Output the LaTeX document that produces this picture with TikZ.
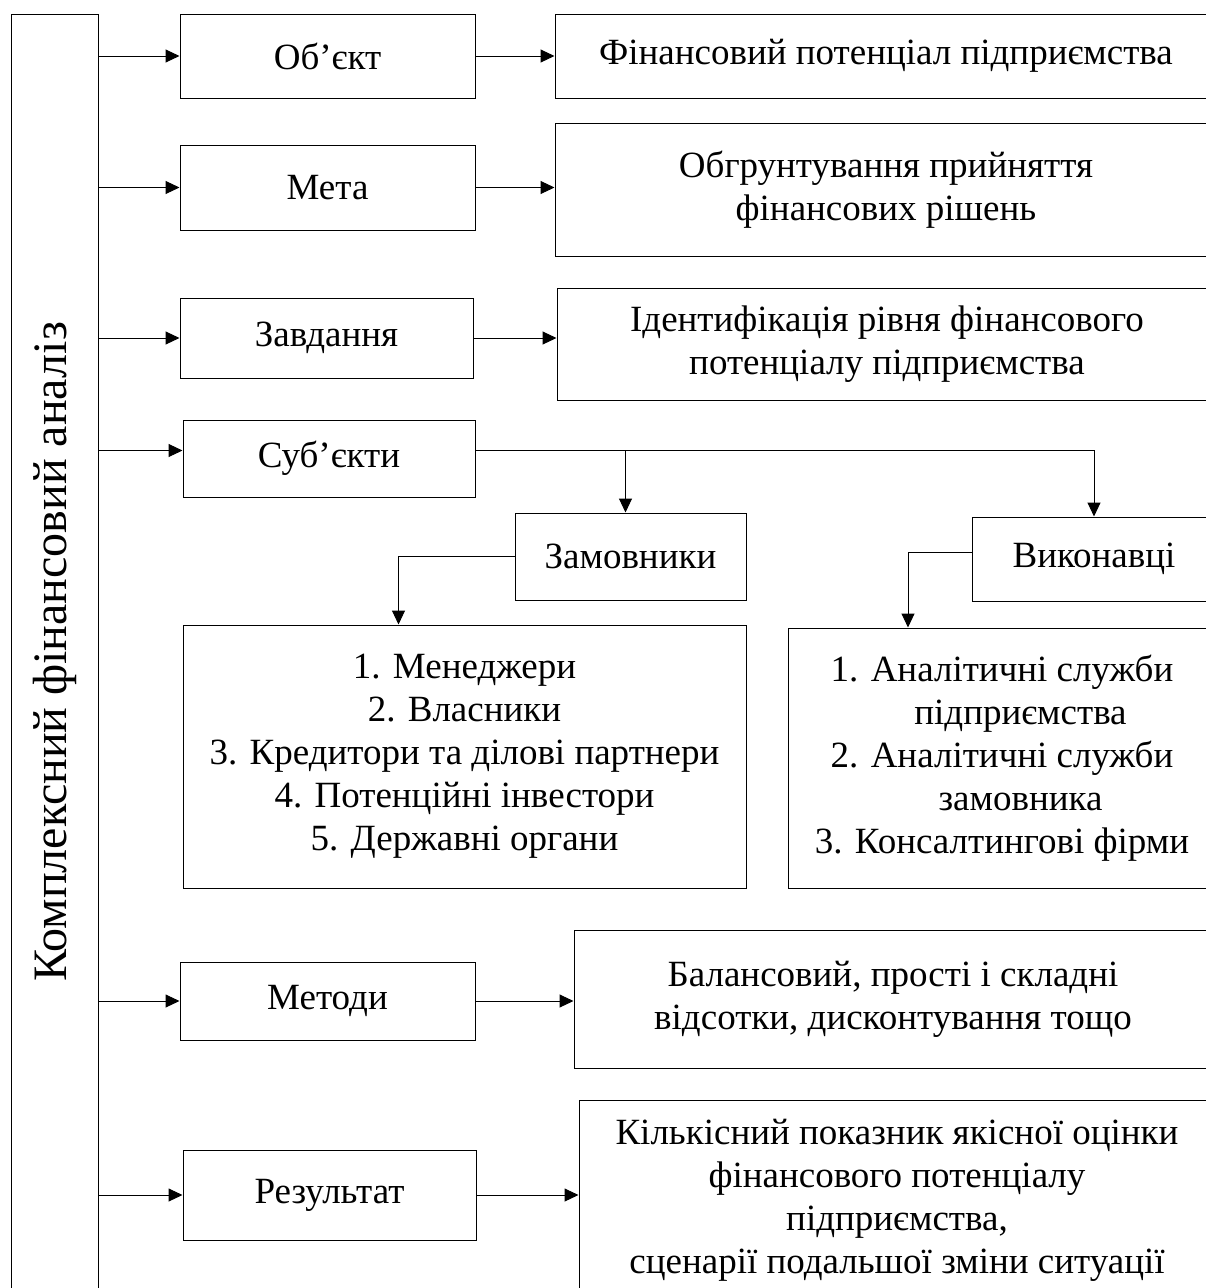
\documentclass[tikz,border=0pt]{standalone}
\usepackage{fontspec}
\setmainfont{Liberation Serif}
\usetikzlibrary{arrows.meta, positioning}
\tikzstyle{block} = [rectangle, draw=black, line width=1pt, inner sep=2pt, align=center, font=\fontsize{37}{43}\selectfont]
\tikzstyle{sidebar} = [rectangle, draw=black, line width=1pt, rotate=90, font=\fontsize{48}{56}\selectfont]
\tikzstyle{arrow} = [line width=1pt, -{Triangle[length=14pt, width=13pt]}]

\begin{document}
\begin{tikzpicture}[x=1pt, y=-1pt]
\useasboundingbox (0,0) rectangle (1206,1288);

\node (analiz) [sidebar, minimum width=1276pt, minimum height=87pt] at (54.5,652) {Комплексний фінансовий аналіз};

% left column
\node (obj) [block, minimum width=295pt, minimum height=84pt] at (327.5,56) {Об’єкт};
\node (meta) [block, minimum width=295pt, minimum height=85pt] at (327.5,187.5) {Мета};
\node (zavd) [block, minimum width=293pt, minimum height=80pt] at (326.5,338) {Завдання};
\node (sub) [block, minimum width=292pt, minimum height=77pt] at (329,458.5) {Суб’єкти};
\node (metody) [block, minimum width=295pt, minimum height=78pt] at (327.5,1001) {Методи};
\node (rez) [block, minimum width=293pt, minimum height=90pt] at (329.5,1195) {Результат};

% right column
\node (fin) [block, minimum width=662pt, minimum height=84pt] at (886,56) {Фінансовий потенціал підприємства};
\node (obgr) [block, minimum width=662pt, minimum height=133pt] at (886,189.5) {Обгрунтування прийняття\\фінансових рішень};
\node (ident) [block, minimum width=660pt, minimum height=112pt] at (887,344) {Ідентифікація рівня фінансового\\потенціалу підприємства};
\node (balans) [block, minimum width=638pt, minimum height=138pt] at (893,999) {Балансовий, прості і складні\\відсотки, дисконтування тощо};
\node (kilk) [block, minimum width=636pt, minimum height=200pt] at (897,1200) {Кількісний показник якісної оцінки\\фінансового потенціалу\\підприємства,\\сценарії подальшої зміни ситуації};

% subjects
\node (zamov) [block, minimum width=231pt, minimum height=87pt] at (630.5,556.5) {Замовники};
\node (vykon) [block, minimum width=244pt, minimum height=84pt] at (1094,559) {Виконавці};
\node (zamlist) [block, minimum width=563pt, minimum height=263pt] at (464.5,756.5) {1. Менеджери\\2. Власники\\3. Кредитори та ділові партнери\\4. Потенційні інвестори\\5. Державні органи};
\node (vyklist) [block, minimum width=428pt, minimum height=260pt] at (1002,758) {1. Аналітичні служби\\\quad підприємства\\2. Аналітичні служби\\\quad замовника\\3. Консалтингові фірми};

\draw [arrow] (analiz.south |- obj.west) -- (obj.west);
\draw [arrow] (analiz.south |- meta.west) -- (meta.west);
\draw [arrow] (analiz.south |- zavd.west) -- (zavd.west);
\draw [arrow] ([yshift=8pt]analiz.south |- sub.west) -- ([yshift=8pt]sub.west);
\draw [arrow] (analiz.south |- metody.west) -- (metody.west);
\draw [arrow] (analiz.south |- rez.west) -- (rez.west);

\draw [arrow] (obj.east) -- (obj.east -| fin.west);
\draw [arrow] (meta.east) -- (meta.east -| obgr.west);
\draw [arrow] (zavd.east) -- (zavd.east -| ident.west);
\draw [arrow] (metody.east) -- (metody.east -| balans.west);
\draw [arrow] (rez.east) -- (rez.east -| kilk.west);

\draw [arrow] ([yshift=8pt]sub.east) -| (vykon.north);
\draw [arrow] ([xshift=-5pt, yshift=8pt]zamov.north |- sub.east) -- ([xshift=-5pt]zamov.north);
\draw [arrow] (zamov.west) -| ([xshift=-66pt]zamlist.north);
\draw [arrow] ([yshift=7pt]vykon.west) -| ([xshift=-94pt]vyklist.north);

\end{tikzpicture}
\end{document}
